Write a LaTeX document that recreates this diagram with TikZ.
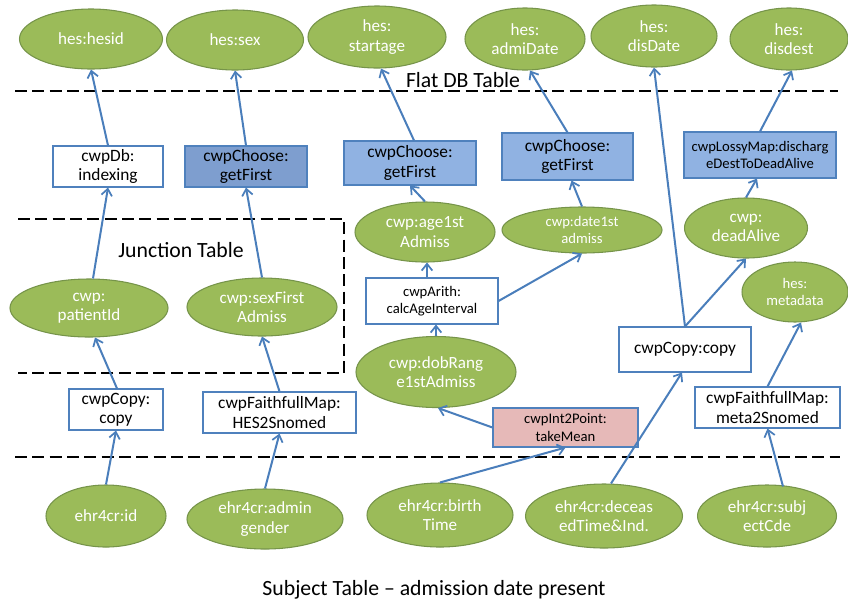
\documentclass[tikz,border=0pt]{standalone}
\usepackage{fontspec}
\setmainfont{Carlito}
\usetikzlibrary{arrows.meta,calc,shapes.geometric}

\definecolor{leaf}{HTML}{9BBB59}
\definecolor{leafedge}{HTML}{76944A}
\definecolor{boxedge}{HTML}{4F81BD}
\definecolor{bluefill}{HTML}{90B2E2}
\definecolor{bluedark}{HTML}{7E9ECF}
\definecolor{pinkfill}{HTML}{E6B9B8}
\definecolor{wire}{HTML}{4A7EBB}

\begin{document}
\begin{tikzpicture}[
  x=0.75pt, y=-0.75pt,
  sz/.style 2 args={minimum width=#1*0.75pt, minimum height=#2*0.75pt},
  term/.style={ellipse, draw=leafedge, line width=0.8pt, fill=leaf,
    text=white, inner sep=0pt, align=center,
    font=\fontsize{12.8}{14.6}\selectfont},
  fnbox/.style={rectangle, draw=boxedge, line width=0.8pt, fill=white,
    inner sep=0pt, align=center, font=\fontsize{13}{14.6}\selectfont},
  smalltext/.style={font=\fontsize{11}{13.2}\selectfont},
  title/.style={font=\fontsize{16.3}{19}\selectfont, inner sep=0pt},
  arr/.style={draw=wire, line width=1.5pt,
    -{Straight Barb[length=5pt,width=8pt,line width=1.3pt]}},
  sep/.style={line width=2.2pt, dash pattern=on 9pt off 4pt}
]
\useasboundingbox (0,0) rectangle (848,604);

% ---- separators ----
\draw[sep] (15,91) -- (838,91);
\draw[sep] (18,219) -- (344,219) -- (344,373) -- (18,373);
\draw[sep] (15,457) -- (840,457);

% ---- section titles ----
\node[title] (tflat) at (463,80) {Flat DB Table};
\node[title] (tjunc) at (181,250) {Junction Table};
\node[title] (tsubj) at (434,590) {Subject Table -- admission date present};

% ---- flat DB table columns ----
\node[term, sz={143}{60}] (hesid)    at (91,39)  {hes:hesid};
\node[term, sz={137}{60}] (sex)      at (235,40) {hes:sex};
\node[term, sz={138}{62}] (startage) at (377,37) {hes:\\startage};
\node[term, sz={120}{62}] (admi)     at (525,39) {hes:\\admiDate};
\node[term, sz={126}{62}] (disdate)  at (654,36) {hes:\\disDate};
\node[term, sz={118}{62}] (disdest)  at (789,39) {hes:\\disdest};

% ---- mapping functions ----
\node[fnbox, sz={110}{41}] (index) at (108,166.5) {cwpDb:\\indexing};
\node[fnbox, sz={122}{41}, fill=bluedark] (choose1) at (246,166.5) {cwpChoose:\\getFirst};
\node[fnbox, sz={132}{44}, fill=bluefill] (choose2) at (410,163) {cwpChoose:\\getFirst};
\node[fnbox, sz={131}{47}, fill=bluefill] (choose3) at (567.5,156.5) {cwpChoose:\\getFirst};
\node[fnbox, sz={152}{46}, fill=bluefill, smalltext] (lossy) at (760,155) {cwpLossyMap:discharg\\eDestToDeadAlive};

% ---- junction table ----
\node[term, sz={158}{58}] (patient)  at (89,308)  {cwp:\\patientId};
\node[term, sz={150}{58}] (sexfirst) at (262,307) {cwp:sexFirst\\Admiss};

% ---- intermediate concepts ----
\node[term, sz={140}{60}] (age)  at (425,232) {cwp:age1st\\Admiss};
\node[term, sz={160}{46}, smalltext] (date) at (582,230) {cwp:date1st\\admiss};
\node[fnbox, sz={132}{46}, smalltext] (arith) at (432,301) {cwpArith:\\calcAgeInterval};
\node[term, sz={160}{71}] (dob) at (436,372) {cwp:dobRang\\e1stAdmiss};
\node[term, sz={123}{60}] (dead) at (746,228) {cwp:\\deadAlive};
\node[term, sz={106}{60}, smalltext] (meta) at (795,292) {hes:\\metadata};

\node[fnbox, sz={132}{45}] (copyr) at (685,349.5) {cwpCopy:copy};
\node[fnbox, sz={94}{41}]  (copyl) at (116,409.5) {cwpCopy:\\copy};
\node[fnbox, sz={153}{41}] (hes2)  at (279.5,412.5) {cwpFaithfullMap:\\HES2Snomed};
\node[fnbox, sz={145}{39}, fill=pinkfill, smalltext] (mean) at (565.5,427.5) {cwpInt2Point:\\takeMean};
\node[fnbox, sz={145}{41}] (meta2) at (767.5,407.5) {cwpFaithfullMap:\\meta2Snomed};

% ---- subject table columns ----
\node[term, sz={120}{62}] (id)     at (106,516) {ehr4cr:id};
\node[term, sz={156}{60}] (gender) at (265,519) {ehr4cr:admin\\gender};
\node[term, sz={146}{64}] (birth)  at (440,515) {ehr4cr:birth\\Time};
\node[term, sz={157}{64}] (dec)    at (604,516) {ehr4cr:deceas\\edTime\&Ind.};
\node[term, sz={139}{62}] (subj)   at (767,516) {ehr4cr:subj\\ectCde};

% ---- data flow ----
\draw[arr] (index.north) -- (hesid.south);
\draw[arr] (choose1.north) -- (sex.south);
\draw[arr] ($(choose2.north)+(4,0)$) -- ($(startage.south)+(4,0)$);
\draw[arr] (choose3.north) -- ($(admi.south)+(5,0)$);
\draw[arr] (copyr.north) -- (disdate.south);
\draw[arr] (lossy.north) -- ($(disdest.south)+(3,0)$);

\draw[arr] ($(patient.north)+(4,0)$) -- (index.south);
\draw[arr] (sexfirst.north) -- (choose1.south);
\draw[arr] (age.north) -- (choose2.south);
\draw[arr] (date.north) -- ($(choose3.south)+(4,0)$);
\draw[arr] (dead.north) -- ($(lossy.south)+(-3,0)$);

\draw[arr] ($(arith.north)+(-5,0)$) -- ($(age.south)+(2,0)$);
\draw[arr] (arith.east) -- (date.south);
\draw[arr] (dob.north) -- (dob.north |- arith.south);
\draw[arr] (mean.west) -- ($(dob.south)+(2,0)$);
\draw[arr] (copyr.north) -- (dead.south);
\draw[arr] (meta2.north) -- ($(meta.south)+(6,0)$);

\draw[arr] ($(copyl.north)+(1,0)$) -- ($(patient.south)+(6,0)$);
\draw[arr] (hes2.north) -- (sexfirst.south);

\draw[arr] (id.north) -- (copyl.south);
\draw[arr] (gender.north) -- (hes2.south);
\draw[arr] (birth.north) -- (mean.south);
\draw[arr] ($(dec.north)+(7,0)$) -- ($(copyr.south)+(-3,0)$);
\draw[arr] ($(subj.north)+(16,2)$) -- (meta2.south);
\end{tikzpicture}
\end{document}
